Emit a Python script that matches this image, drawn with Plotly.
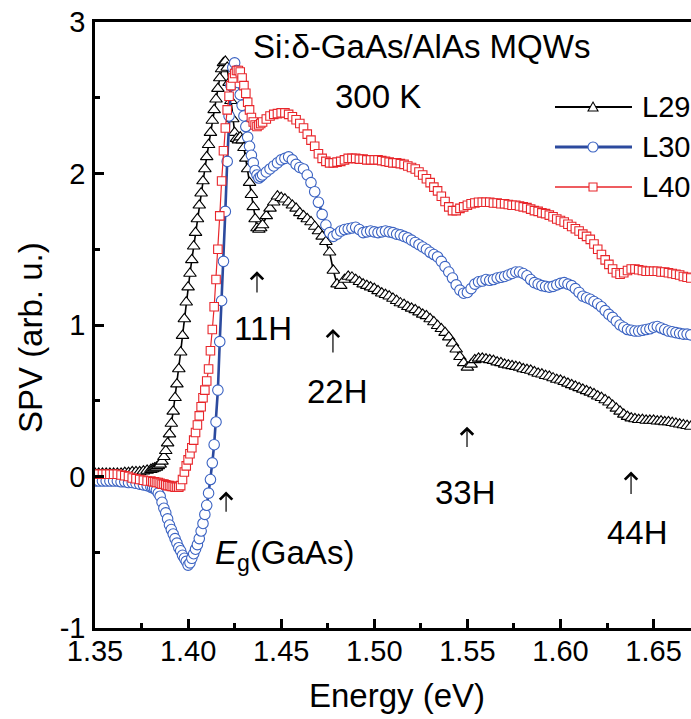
import numpy as np
import plotly.graph_objects as go

# ---------------- data ----------------
# photon energy grid in meV: 2 meV steps, 1 meV steps around the band edge
energy_mev = np.concatenate([np.arange(1350, 1381, 2),
                             np.arange(1381, 1441, 1),
                             np.arange(1442, 1671, 2)])
energy = (energy_mev / 1000.0).tolist()

spv_L29 = [
    0.02, 0.02, 0.02, 0.02, 0.02, 0.02, 0.02, 0.02, 0.025, 0.025, 0.03, 0.03, 0.03, 0.035, 0.04, 0.045,
    0.05, 0.055, 0.06, 0.07, 0.08, 0.10, 0.13, 0.17, 0.22, 0.28,
    0.35, 0.43, 0.52, 0.61, 0.71, 0.82, 0.93, 1.04, 1.15, 1.25,
    1.34, 1.43, 1.52, 1.61, 1.70, 1.79, 1.87, 1.95, 2.03, 2.11,
    2.19, 2.27, 2.35, 2.42, 2.49, 2.56, 2.63, 2.69, 2.73, 2.74,
    2.70, 2.60, 2.48, 2.36, 2.27, 2.23, 2.22, 2.24, 2.22, 2.17,
    2.10, 2.03, 1.94, 1.86, 1.78, 1.70, 1.64, 1.63, 1.64, 1.66,
    1.72, 1.77, 1.81, 1.85, 1.84, 1.83, 1.81, 1.79, 1.77, 1.74,
    1.72, 1.70, 1.68, 1.65, 1.62, 1.585, 1.55, 1.48, 1.36, 1.27,
    1.26, 1.30, 1.32, 1.315, 1.30, 1.285, 1.27, 1.26, 1.25, 1.24,
    1.225, 1.21, 1.20, 1.19, 1.175, 1.16, 1.145, 1.135, 1.12, 1.11,
    1.10, 1.085, 1.07, 1.06, 1.04, 1.02, 0.995, 0.975, 0.95, 0.92,
    0.88, 0.84, 0.79, 0.75, 0.72, 0.74, 0.77, 0.78, 0.78, 0.775,
    0.77, 0.765, 0.755, 0.75, 0.74, 0.735, 0.73, 0.725, 0.72, 0.71,
    0.705, 0.70, 0.69, 0.68, 0.675, 0.665, 0.66, 0.65, 0.64, 0.635,
    0.625, 0.615, 0.605, 0.595, 0.585, 0.575, 0.565, 0.555, 0.545, 0.53,
    0.52, 0.505, 0.49, 0.47, 0.45, 0.43, 0.41, 0.395, 0.385, 0.38,
    0.375, 0.375, 0.37, 0.37, 0.37, 0.365, 0.365, 0.36, 0.36, 0.355,
    0.35, 0.345, 0.34, 0.335, 0.33,
]

spv_L30 = [
    -0.03, -0.03, -0.03, -0.03, -0.03, -0.03, -0.03, -0.035, -0.035, -0.04, -0.04, -0.045, -0.05, -0.055, -0.06, -0.07,
    -0.075, -0.08, -0.09, -0.11, -0.13, -0.17, -0.21, -0.24, -0.28, -0.32,
    -0.35, -0.38, -0.41, -0.44, -0.47, -0.49, -0.52, -0.54, -0.56, -0.585,
    -0.57, -0.54, -0.51, -0.48, -0.45, -0.41, -0.36, -0.31, -0.25, -0.19,
    -0.11, -0.02, 0.09, 0.21, 0.36, 0.57, 0.89, 1.16, 1.42, 1.75,
    2.08, 2.38, 2.58, 2.70, 2.73, 2.68, 2.60, 2.52, 2.45, 2.38,
    2.31, 2.24, 2.18, 2.12, 2.07, 2.02, 1.99, 1.97, 1.98, 1.99,
    2.01, 2.03, 2.05, 2.07, 2.09, 2.10, 2.11, 2.09, 2.06, 2.04,
    2.03, 1.99, 1.94, 1.88, 1.81, 1.73, 1.66, 1.61, 1.585, 1.60,
    1.62, 1.63, 1.635, 1.64, 1.645, 1.63, 1.61, 1.615, 1.62, 1.615,
    1.61, 1.615, 1.62, 1.615, 1.61, 1.60, 1.595, 1.585, 1.575, 1.56,
    1.545, 1.53, 1.515, 1.50, 1.48, 1.465, 1.45, 1.42, 1.385, 1.35,
    1.31, 1.265, 1.23, 1.21, 1.215, 1.24, 1.27, 1.285, 1.29, 1.30,
    1.295, 1.30, 1.31, 1.315, 1.32, 1.33, 1.34, 1.35, 1.35, 1.34,
    1.325, 1.30, 1.28, 1.27, 1.26, 1.255, 1.25, 1.255, 1.265, 1.275,
    1.28, 1.27, 1.26, 1.24, 1.215, 1.19, 1.18, 1.17, 1.155, 1.14,
    1.12, 1.095, 1.07, 1.05, 1.025, 1.00, 0.985, 0.97, 0.965, 0.96,
    0.96, 0.965, 0.97, 0.975, 0.985, 0.99, 0.98, 0.97, 0.96, 0.955,
    0.95, 0.945, 0.94, 0.94, 0.935,
]

spv_L40 = [
    0.015, 0.015, 0.015, 0.015, 0.015, 0.015, 0.015, 0.01, 0.005, 0.0, -0.01, -0.015, -0.02, -0.025, -0.03, -0.03,
    -0.035, -0.035, -0.04, -0.04, -0.045, -0.05, -0.05, -0.055, -0.06, -0.06,
    -0.065, -0.065, -0.07, -0.07, -0.07, -0.06, -0.02, 0.03, 0.07, 0.11,
    0.15, 0.19, 0.24, 0.29, 0.34, 0.40, 0.46, 0.52, 0.57, 0.63,
    0.71, 0.83, 0.97, 1.12, 1.30, 1.50, 1.72, 1.95, 2.15, 2.30,
    2.42, 2.51, 2.58, 2.63, 2.66, 2.68, 2.68, 2.67, 2.63, 2.58,
    2.53, 2.47, 2.42, 2.37, 2.34, 2.32, 2.31, 2.32, 2.33, 2.34,
    2.36, 2.38, 2.39, 2.395, 2.40, 2.40, 2.39, 2.375, 2.355, 2.33,
    2.30, 2.26, 2.22, 2.18, 2.13, 2.10, 2.08, 2.07, 2.07, 2.075,
    2.08, 2.09, 2.10, 2.10, 2.10, 2.095, 2.095, 2.09, 2.09, 2.09,
    2.09, 2.085, 2.08, 2.075, 2.07, 2.07, 2.065, 2.06, 2.05, 2.04,
    2.03, 2.01, 1.99, 1.965, 1.94, 1.91, 1.885, 1.85, 1.815, 1.78,
    1.755, 1.755, 1.77, 1.78, 1.79, 1.80, 1.805, 1.81, 1.81, 1.81,
    1.81, 1.805, 1.805, 1.80, 1.80, 1.795, 1.79, 1.79, 1.785, 1.78,
    1.775, 1.765, 1.755, 1.75, 1.74, 1.735, 1.725, 1.715, 1.70, 1.69,
    1.68, 1.665, 1.65, 1.635, 1.62, 1.60, 1.585, 1.565, 1.535, 1.50,
    1.465, 1.43, 1.40, 1.37, 1.345, 1.335, 1.345, 1.36, 1.37, 1.37,
    1.365, 1.36, 1.355, 1.355, 1.355, 1.355, 1.35, 1.35, 1.345, 1.34,
    1.335, 1.33, 1.32, 1.315, 1.31,
]

series_names = ["L29", "L30", "L40"]
y_tick_vals = [-1, 0, 1, 2, 3]
y_tick_text = ["-1", "0", "1", "2", "3"]

# transition labels: (label, label x, label y, arrow x, arrow head y, arrow tail y)
transitions = [("11H", 1.4402, 0.974, 1.437, 1.355, 1.204),
               ("22H", 1.4805, 0.559, 1.4778, 0.974, 0.809),
               ("33H", 1.5492, -0.105, 1.5498, 0.329, 0.184),
               ("44H", 1.6411, -0.368, 1.6379, 0.033, -0.125)]
eg_arrow = (1.4204, -0.099, -0.243)

for s in (spv_L29, spv_L30, spv_L40):
    assert len(s) == len(energy), (len(s), len(energy))

FONT = "Liberation Sans, Arial, Helvetica, sans-serif"

fig = go.Figure()
fig.add_trace(go.Scatter(
    x=energy, y=spv_L29, mode="lines+markers", name="L29",
    line=dict(color="black", width=1.6),
    marker=dict(symbol="triangle-up", size=11, color="white",
                line=dict(color="black", width=1.1)),
    showlegend=False))
fig.add_trace(go.Scatter(
    x=energy, y=spv_L30, mode="lines+markers", name="L30",
    line=dict(color="#2C4A9E", width=2.6),
    marker=dict(symbol="circle", size=10.5, color="white",
                line=dict(color="#3A62C2", width=1.1)),
    showlegend=False))
fig.add_trace(go.Scatter(
    x=energy, y=spv_L40, mode="lines+markers", name="L40",
    line=dict(color="#E8262B", width=1.2),
    marker=dict(symbol="square", size=8.5, color="white",
                line=dict(color="#E8262B", width=1.1)),
    showlegend=False))

axis_common = dict(showline=True, linewidth=2.5, linecolor="black",
                   ticks="inside", tickwidth=2.5, ticklen=9, tickcolor="black",
                   showgrid=False, zeroline=False,
                   tickfont=dict(family=FONT, size=29, color="black"))

fig.update_xaxes(range=[1.35, 1.6701], dtick=0.05, tick0=1.35, tickformat=".2f",
                 mirror=True, ticklabelstandoff=-5,
                 minor=dict(dtick=0.025, ticks="inside", ticklen=5, tickwidth=2.5,
                            tickcolor="black", showgrid=False),
                 **axis_common)
fig.update_yaxes(range=[-1, 3], tickvals=y_tick_vals, ticktext=y_tick_text,
                 mirror=False, ticklabelstandoff=1,
                 minor=dict(dtick=0.5, ticks="inside", ticklen=5, tickwidth=2.5,
                            tickcolor="black", showgrid=False),
                 **axis_common)

ann = []
txt = dict(family=FONT, size=33, color="black")
ann.append(dict(x=1.5256, y=2.836, xref="x", yref="y", text="Si:δ-GaAs/AlAs MQWs",
                xanchor="center", yanchor="middle", showarrow=False, font=txt))
ann.append(dict(x=1.502, y=2.507, xref="x", yref="y", text="300 K",
                xanchor="center", yanchor="middle", showarrow=False, font=txt))
arrow_style = dict(showarrow=True, arrowhead=4, arrowsize=2, arrowwidth=1.2,
                   arrowcolor="black", text="", axref="x", ayref="y",
                   xref="x", yref="y", standoff=0, startstandoff=0)
for lab, lx, ly, axx, yh, yt in transitions:
    ann.append(dict(x=lx, y=ly, xref="x", yref="y", text=lab, showarrow=False,
                    xanchor="center", yanchor="middle", font=txt))
    ann.append(dict(x=axx, y=yh, ax=axx, ay=yt, **arrow_style))
ann.append(dict(x=eg_arrow[0], y=eg_arrow[1], ax=eg_arrow[0], ay=eg_arrow[2], **arrow_style))
ann.append(dict(x=1.4134, y=-0.52, xref="x", yref="y", xanchor="left", yanchor="middle",
                text="<i>E</i><sub>g</sub>(GaAs)", showarrow=False, font=txt))
# axis titles
ann.append(dict(x=0.5067, y=-0.1106, xref="paper", yref="paper", text="Energy (eV)",
                xanchor="center", yanchor="middle", showarrow=False, font=txt))
ann.append(dict(x=-0.109, y=0.4785, xref="paper", yref="paper", text="SPV (arb. u.)",
                xanchor="center", yanchor="middle", textangle=-90, showarrow=False, font=txt))

# legend (drawn by hand to get the long line samples)
leg_rows = [0.8597, 0.7937, 0.7277]
leg_line_colors = ["black", "#2C4A9E", "#E8262B"]
leg_line_widths = [2.2, 3.2, 1.6]
shapes = []
for i, name in enumerate(series_names):
    yr = leg_rows[i]
    shapes.append(dict(type="line", xref="paper", yref="paper", x0=0.7718, x1=0.901,
                       y0=yr, y1=yr, line=dict(color=leg_line_colors[i], width=leg_line_widths[i])))
    ann.append(dict(x=0.9144, y=yr, xref="paper", yref="paper", xanchor="left", yanchor="middle",
                    text=name, showarrow=False, font=dict(family=FONT, size=29, color="black")))
xm = 0.8356
shapes.append(dict(type="path", xref="paper", yref="paper", xsizemode="pixel", ysizemode="pixel",
                   xanchor=xm, yanchor=leg_rows[0], path="M-5,-4 L5,-4 L0,5 Z",
                   fillcolor="white", line=dict(color="black", width=1.1)))
shapes.append(dict(type="circle", xref="paper", yref="paper", xsizemode="pixel", ysizemode="pixel",
                   xanchor=xm, yanchor=leg_rows[1], x0=-5, x1=5, y0=-5, y1=5,
                   fillcolor="white", line=dict(color="#3A62C2", width=1.1)))
shapes.append(dict(type="rect", xref="paper", yref="paper", xsizemode="pixel", ysizemode="pixel",
                   xanchor=xm, yanchor=leg_rows[2], x0=-4, x1=4, y0=-4, y1=4,
                   fillcolor="white", line=dict(color="#E8262B", width=1.1)))

fig.update_layout(width=691, height=719, margin=dict(l=95, r=0, t=22, b=91),
                  paper_bgcolor="white", plot_bgcolor="white",
                  annotations=ann, shapes=shapes, showlegend=False,
                  font=dict(family=FONT, color="black"))

fig.write_html("out.html")
